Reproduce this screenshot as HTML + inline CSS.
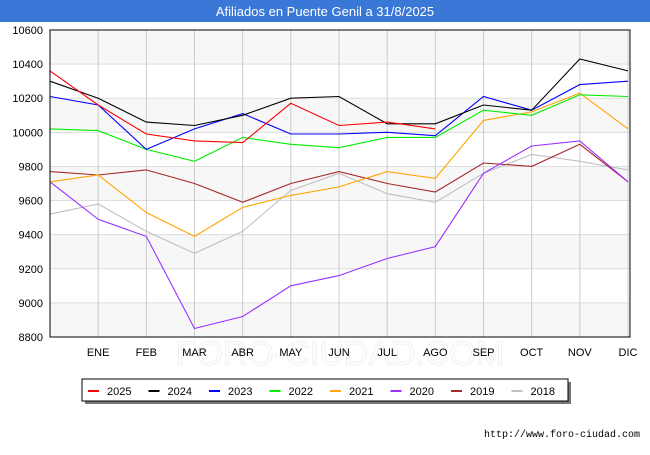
<!DOCTYPE html>
<html><head><meta charset="utf-8"><style>
body{margin:0;width:650px;height:450px;background:#fff;font-family:"Liberation Sans",sans-serif;overflow:hidden}
</style></head><body>
<svg width="650" height="450" xmlns="http://www.w3.org/2000/svg">
<rect x="0" y="0" width="650" height="22" fill="#3a78d8"/>
<text x="325" y="16" text-anchor="middle" fill="#fff" font-size="13">Afiliados en Puente Genil a 31/8/2025</text>
<text x="340" y="365" text-anchor="middle" font-size="34" fill="#fff" stroke="#f0f0f0" stroke-width="1">FORO-CIUDAD.COM</text>
<g id="bands"></g><g id="grid"></g><g id="yticks"></g><g id="xticks"></g>
<g id="series"></g>
<rect x="50" y="30" width="580" height="307" fill="none" stroke="#000" stroke-width="1"/>
<rect x="85" y="382" width="486" height="22" fill="#777"/>
<rect x="82" y="379" width="486" height="22" fill="#fff" stroke="#000"/>
<g id="legend"></g>
<text x="640" y="437" text-anchor="end" font-size="10" font-family="Liberation Mono, monospace">http://www.foro-ciudad.com</text>
</svg>
<script>
const months=["","ENE","FEB","MAR","ABR","MAY","JUN","JUL","AGO","SEP","OCT","NOV","DIC"];
const yTicks=[8800,9000,9200,9400,9600,9800,10000,10200,10400,10600];
const seriesNames=["2025","2024","2023","2022","2021","2020","2019","2018"];
const seriesColors=["#ff0000","#000000","#0000ff","#00ee00","#ffa500","#9b30ff","#a52a2a","#c0c0c0"];
const s2025=[10360,10160,9990,9950,9940,10170,10040,10060,10020];
const s2024=[10300,10200,10060,10040,10100,10200,10210,10050,10050,10160,10130,10430,10360];
const s2023=[10210,10160,9900,10020,10110,9990,9990,10000,9980,10210,10130,10280,10300];
const s2022=[10020,10010,9900,9830,9970,9930,9910,9970,9970,10130,10100,10220,10210];
const s2021=[9710,9750,9530,9390,9560,9630,9680,9770,9730,10070,10120,10230,10020];
const s2020=[9710,9490,9390,8850,8920,9100,9160,9260,9330,9760,9920,9950,9710];
const s2019=[9770,9750,9780,9700,9590,9700,9770,9700,9650,9820,9800,9930,9710];
const s2018=[9520,9580,9420,9290,9420,9660,9760,9640,9590,9760,9870,9830,9780];
const allSeries=[s2025,s2024,s2023,s2022,s2021,s2020,s2019,s2018];
const NS="http://www.w3.org/2000/svg";
const X0=50,X1=628,Y0=337,Y1=30,vmin=8800,vmax=10600;
const xs=i=>X0+(X1-X0)*i/(months.length-1);
const ys=v=>Y0-(v-vmin)/(vmax-vmin)*(Y0-Y1);
function mk(t,a,p){const e=document.createElementNS(NS,t);for(const k in a)e.setAttribute(k,a[k]);p.appendChild(e);return e;}
const bands=document.getElementById('bands'),grid=document.getElementById('grid'),yt=document.getElementById('yticks'),xt=document.getElementById('xticks');
for(let i=0;i<yTicks.length-1;i++){if(i%2==0){const r=mk('rect',{x:50,y:ys(yTicks[i+1]),width:580,height:ys(yTicks[i])-ys(yTicks[i+1]),fill:'#f7f7f7'},bands);

}}
yTicks.forEach(v=>{const l=mk('line',{x1:50,x2:630,y1:ys(v),y2:ys(v),stroke:'#dddddd'},grid);


const t=mk('text',{x:43,y:ys(v)+4,'text-anchor':'end','font-size':11},yt);t.textContent=v;

});
months.forEach((m,i)=>{if(i==0)return;const l=mk('line',{x1:xs(i),x2:xs(i),y1:30,y2:337,stroke:'#cccccc'},grid);


const t=mk('text',{x:xs(i),y:356,'text-anchor':'middle','font-size':11},xt);t.textContent=m;

});
const sg=document.getElementById('series');
for(let k=allSeries.length-1;k>=0;k--){const d=allSeries[k].map((v,i)=>xs(i).toFixed(1)+','+ys(v).toFixed(1)).join(' ');
const p=mk('polyline',{points:d,fill:'none',stroke:seriesColors[k],'stroke-width':1.1},sg);

}
const lg=document.getElementById('legend');
seriesNames.forEach((n,k)=>{const x=88+k*60.5;
const l=mk('line',{x1:x,x2:x+11,y1:391,y2:391,stroke:seriesColors[k],'stroke-width':2},lg);


const t=mk('text',{x:x+19,y:395,'font-size':11},lg);t.textContent=n;

});
</script>
</body></html>
